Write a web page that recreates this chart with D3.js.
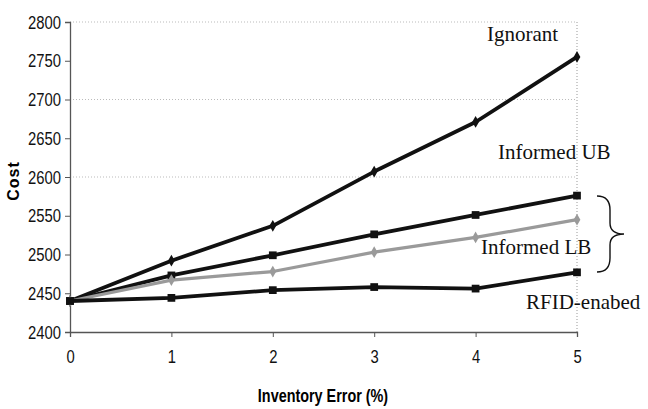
<!DOCTYPE html>
<html>
<head>
<meta charset="utf-8">
<script src="https://cdn.jsdelivr.net/npm/d3@7"></script>
<style>
  body { margin: 0; background: #fff; }
  .tick text { font-family: "Liberation Sans", Arial, sans-serif; font-size: 19px; fill: #111; }
</style>
</head>
<body>
<svg id="chart" width="648" height="409"></svg>
<script>
var errors = [0, 1, 2, 3, 4, 5];
var ignorant = [2440, 2492, 2537, 2607, 2671, 2755];
var informedUB = [2440, 2473, 2499, 2526, 2551, 2576];
var informedLB = [2440, 2467, 2478, 2503, 2522, 2545];
var rfid = [2440, 2444, 2454, 2458, 2456, 2477];
var yTicks = [2400, 2450, 2500, 2550, 2600, 2650, 2700, 2750, 2800];

var svg = d3.select('#chart');
var mLeft = 70, mRight = 577, mTop = 22, mBottom = 332;

var x = d3.scaleLinear().domain([0, 5]).range([mLeft, mRight]);
var y = d3.scaleLinear().domain([2400, 2800]).range([mBottom, mTop]);

// faint dotted gridlines + frame
svg.selectAll('line.grid').data([2600, 2700, 2800]).enter().append('line')
    .attr('x1', mLeft).attr('x2', mRight)
    .attr('y1', d => y(d)).attr('y2', d => y(d))
    .attr('stroke', '#bbb').attr('stroke-width', 1).attr('stroke-dasharray', '1,2');
svg.append('line')
    .attr('x1', mRight).attr('x2', mRight).attr('y1', mTop).attr('y2', mBottom)
    .attr('stroke', '#999').attr('stroke-width', 1).attr('stroke-dasharray', '1,2');

let yAxis = svg.append('g')
    .attr('transform', 'translate(' + mLeft + ',0)')
    .call(d3.axisLeft(y).tickValues(yTicks).tickSize(5).tickPadding(4).tickFormat(d3.format('d')));
let xAxis = svg.append('g')
    .attr('transform', 'translate(0,' + mBottom + ')')
    .call(d3.axisBottom(x).tickValues(errors).tickSize(5).tickPadding(12).tickFormat(d3.format('d')));
[xAxis, yAxis].forEach(g => {
    g.select('.domain').attr('stroke', '#555').attr('stroke-width', 1.3);
    g.selectAll('.tick line').attr('stroke', '#555');
    // squeeze the digits horizontally, like the narrow face in the scan
    g.selectAll('.tick text').each(function() {
        let t = d3.select(this);
        let tx = +t.attr('x') || 0, ty = +t.attr('y') || 0;
        t.attr('transform', 'translate(' + tx + ',' + ty + ') scale(0.78,1)').attr('x', 0).attr('y', 0);
    });
});

var series = [
    { name: 'Ignorant', vals: ignorant, color: '#111', width: 3.8, marker: 'diamond' },
    { name: 'Informed UB', vals: informedUB, color: '#111', width: 3.8, marker: 'square' },
    { name: 'Informed LB', vals: informedLB, color: '#9a9a9a', width: 3.2, marker: 'diamond' },
    { name: 'RFID-enabed', vals: rfid, color: '#111', width: 3.8, marker: 'square' }
];

var line = d3.line().x((d, i) => x(errors[i])).y(d => y(d));

series.forEach(s => {
    svg.append('path')
        .datum(s.vals)
        .attr('d', line)
        .attr('fill', 'none')
        .attr('stroke', s.color)
        .attr('stroke-width', s.width)
        .attr('stroke-linejoin', 'round');
    var sym = d3.symbol()
        .type(s.marker === 'square' ? d3.symbolSquare : d3.symbolDiamond)
        .size(s.marker === 'square' ? 60 : 40);
    svg.selectAll(null).data(s.vals).enter().append('path')
        .attr('d', sym)
        .attr('transform', (d, i) => 'translate(' + x(errors[i]) + ',' + y(d) + ')')
        .attr('fill', s.color);
});

// annotations
var serif = '"Liberation Serif", "Times New Roman", serif';
var notes = [
    { t: 'Ignorant', x: 487, y: 41 },
    { t: 'Informed UB', x: 498, y: 159 },
    { t: 'Informed LB', x: 481, y: 254 },
    { t: 'RFID-enabed', x: 526, y: 309 }
];
svg.selectAll('text.note').data(notes).enter().append('text')
    .attr('x', d => d.x).attr('y', d => d.y)
    .attr('font-family', serif).attr('font-size', 21).attr('fill', '#111')
    .text(d => d.t);

// brace
svg.append('path')
    .attr('d', 'M597,196 Q610,196 610,210 L610,223 Q610,234 624,234 Q610,234 610,245 L610,258 Q610,272 597,272')
    .attr('fill', 'none').attr('stroke', '#111').attr('stroke-width', 1.4);

// axis titles
var sans = '"Liberation Sans", Arial, sans-serif';
svg.append('text')
    .attr('transform', 'translate(19,181) rotate(-90)')
    .attr('text-anchor', 'middle')
    .attr('font-family', sans).attr('font-weight', 'bold').attr('font-size', 16)
    .attr('letter-spacing', 1)
    .text('Cost');
svg.append('text')
    .attr('transform', 'translate(323,402) scale(0.8,1)')
    .attr('text-anchor', 'middle')
    .attr('font-family', sans).attr('font-weight', 'bold').attr('font-size', 18)
    .text('Inventory Error (%)');
</script>
</body>
</html>
